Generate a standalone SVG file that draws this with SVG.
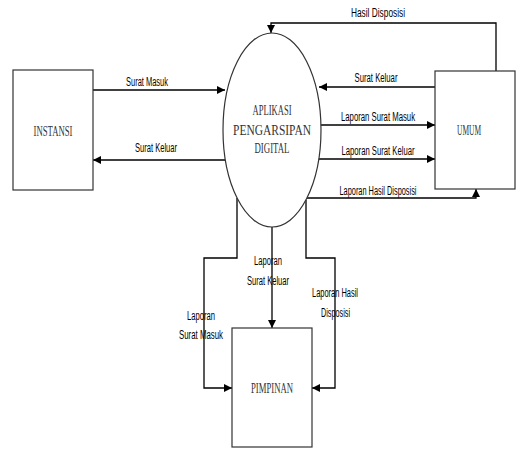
<svg xmlns="http://www.w3.org/2000/svg" width="517" height="450" viewBox="0 0 517 450">
<style>
.box{fill:#fff;stroke:#333;stroke-width:1.2}
.node{font-family:"Liberation Serif","Times New Roman",serif;font-size:14px;fill:#333;text-anchor:middle}
.lbl{font-family:"Liberation Sans",Arial,sans-serif;font-size:12.5px;fill:#000;text-anchor:middle}
.flow{fill:none;stroke:#000;stroke-width:1.3}
.arr{marker-end:url(#ah)}
</style>
<defs>
<marker id="ah" markerUnits="userSpaceOnUse" markerWidth="10" markerHeight="10" refX="8" refY="4" orient="auto">
<path d="M0,0 L8,4 L0,8 Z" fill="#000"/>
</marker>
</defs>
<rect width="517" height="450" fill="#fff"/>
<g id="connectors">
<path class="flow arr" d="M93,90 H225"/>
<path class="flow arr" d="M225,160 H93"/>
<path class="flow arr" d="M496,71 V23 H271 V33"/>
<path class="flow arr" d="M435,87 H319"/>
<path class="flow arr" d="M320,125 H435"/>
<path class="flow arr" d="M318,159 H435"/>
<path class="flow arr" d="M307,198 H476 V189"/>
<path class="flow arr" d="M237,198 V258 H204 V388 H232"/>
<path class="flow arr" d="M272,226 V328"/>
<path class="flow arr" d="M306,200 V258 H335 V388 H312"/>
</g>
<g id="labels">
<text class="lbl" x="147" y="86" textLength="42" lengthAdjust="spacingAndGlyphs">Surat Masuk</text>
<text class="lbl" x="156" y="152" textLength="42" lengthAdjust="spacingAndGlyphs">Surat Keluar</text>
<text class="lbl" x="378" y="17" textLength="54" lengthAdjust="spacingAndGlyphs">Hasil Disposisi</text>
<text class="lbl" x="376" y="82" textLength="43" lengthAdjust="spacingAndGlyphs">Surat Keluar</text>
<text class="lbl" x="378" y="121" textLength="74" lengthAdjust="spacingAndGlyphs">Laporan Surat Masuk</text>
<text class="lbl" x="378" y="155" textLength="73" lengthAdjust="spacingAndGlyphs">Laporan Surat Keluar</text>
<text class="lbl" x="378" y="195" textLength="77" lengthAdjust="spacingAndGlyphs">Laporan Hasil Disposisi</text>
<text class="lbl" x="268" y="265" textLength="28" lengthAdjust="spacingAndGlyphs">Laporan</text>
<text class="lbl" x="268" y="285" textLength="42" lengthAdjust="spacingAndGlyphs">Surat Keluar</text>
<text class="lbl" x="201" y="320" textLength="28" lengthAdjust="spacingAndGlyphs">Laporan</text>
<text class="lbl" x="201" y="339" textLength="44" lengthAdjust="spacingAndGlyphs">Surat Masuk</text>
<text class="lbl" x="335" y="297" textLength="46" lengthAdjust="spacingAndGlyphs">Laporan Hasil</text>
<text class="lbl" x="335.5" y="317" textLength="29" lengthAdjust="spacingAndGlyphs">Disposisi</text>
</g>
<g id="instansi">
<rect class="box" x="13" y="70" width="80" height="120"/>
<text class="node" x="53" y="136" textLength="39" lengthAdjust="spacingAndGlyphs">INSTANSI</text>
</g>
<g id="aplikasi">
<ellipse class="box" cx="272" cy="130" rx="49" ry="97"/>
<text class="node" x="272" y="115" textLength="39" lengthAdjust="spacingAndGlyphs">APLIKASI</text>
<text class="node" x="272" y="135" textLength="78" lengthAdjust="spacingAndGlyphs">PENGARSIPAN</text>
<text class="node" x="272" y="153" textLength="35" lengthAdjust="spacingAndGlyphs">DIGITAL</text>
</g>
<g id="umum">
<rect class="box" x="435" y="71" width="80" height="118"/>
<text class="node" x="469" y="135" textLength="24" lengthAdjust="spacingAndGlyphs">UMUM</text>
</g>
<g id="pimpinan">
<rect class="box" x="232" y="328" width="80" height="119"/>
<text class="node" x="272" y="393" textLength="42" lengthAdjust="spacingAndGlyphs">PIMPINAN</text>
</g>
</svg>
